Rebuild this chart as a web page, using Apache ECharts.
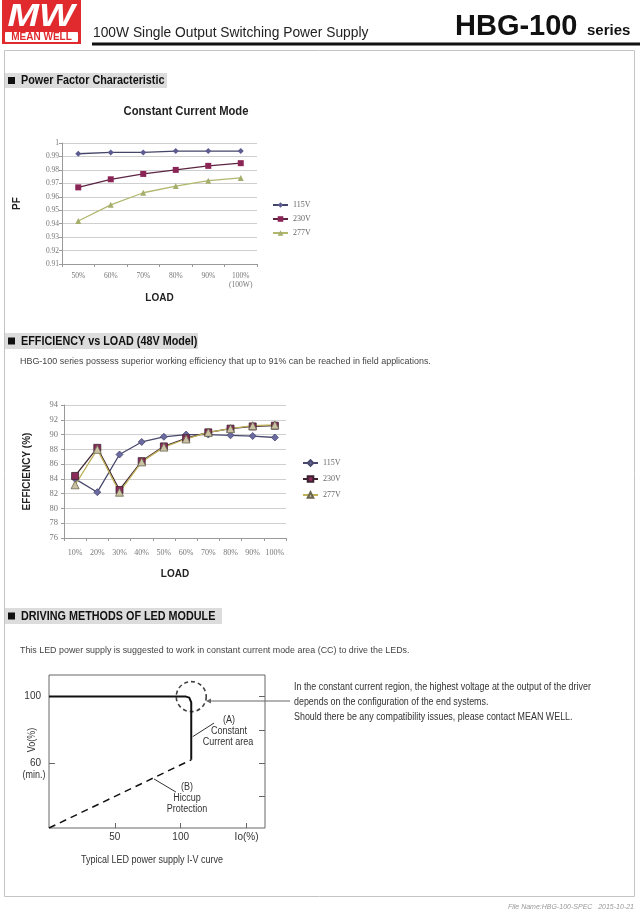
<!DOCTYPE html>
<html><head><meta charset="utf-8">
<script src="https://cdn.jsdelivr.net/npm/echarts@6/dist/echarts.min.js"></script>
<style>html,body{margin:0;padding:0;background:#fff}#c{width:640px;height:911px}</style>
</head><body><div id="c"></div>
<script>
// ---------- data ----------
const pfLoads = ['50%', '60%', '70%', '80%', '90%', '100%\n(100W)'];
const pf115 = [0.992, 0.993, 0.993, 0.994, 0.994, 0.994];
const pf230 = [0.967, 0.973, 0.977, 0.980, 0.983, 0.985];
const pf277 = [0.942, 0.954, 0.963, 0.968, 0.972, 0.974];

const effLoads = ['10%', '20%', '30%', '40%', '50%', '60%', '70%', '80%', '90%', '100%'];
const eff115 = [84.0, 82.2, 87.3, 89.0, 89.7, 90.0, 90.0, 89.9, 89.8, 89.6];
const eff230 = [84.4, 88.2, 82.5, 86.4, 88.4, 89.5, 90.3, 90.8, 91.1, 91.2];
const eff277 = [83.2, 88.0, 82.2, 86.3, 88.3, 89.4, 90.3, 90.8, 91.2, 91.3];

const seriesNames = ['115V', '230V', '277V'];

// I-V curve (Io %, Vo %)
const ivConstantCurrent = [[0, 100], [104, 100], [106.5, 99.4], [107.7, 98.2], [108, 96.5], [108, 62]];
const ivHiccup = [[0, 21], [108, 62]];
const ivCornerMark = [[108, 100]];
const ivLeaderA = [[109.1, 75.9], [125.3, 84.1]];
const ivLeaderB = [[79.7, 50.5], [96.4, 42.6]];
const ivXTicks = [50, 100, 150];
const ivXTickLabels = ['50', '100', 'Io(%)'];
const ivYLabelTicks = [100, 60];
const ivYRightTicks = [40, 60, 80, 100];

// ---------- styling helpers ----------
const NARROW = '"Liberation Sans Narrow","Arial Narrow","Liberation Sans",Arial,sans-serif';
const SANS = '"Liberation Sans",Arial,sans-serif';
const SERIF = '"Liberation Serif","DejaVu Serif",serif';

function txt(x, y, text, o) {
  o = o || {};
  return {
    type: 'text', x: x, y: y, rotation: o.rotation || 0, scaleX: o.scaleX || 1,
    style: {
      text: text, x: 0, y: 0,
      fontSize: o.size || 9, fontFamily: o.family || SANS,
      fontWeight: o.weight || 'normal', fontStyle: o.style || 'normal',
      fill: o.color || '#333', align: o.align || 'left', verticalAlign: o.va || 'middle'
    }
  };
}
function sectionHeader(x, y, w, h, label) {
  return [
    { type: 'rect', shape: { x: x, y: y, width: w, height: h }, style: { fill: '#dcdcdc' } },
    { type: 'rect', shape: { x: x + 3, y: y + h / 2 - 3.5, width: 7, height: 7 }, style: { fill: '#111' } },
    txt(x + 16, y + h / 2 + 0.5, label, { size: 12, weight: 'bold', color: '#111', scaleX: 0.9 })
  ];
}

const pfColors = [
  { line: '#45456a', mark: '#5c5c90', sym: 'diamond', size: 6 },
  { line: '#5a2442', mark: '#8a2556', sym: 'rect', size: 6 },
  { line: '#b1b86e', mark: '#a6ae6c', sym: 'triangle', size: 6 }
];
const effColors = [
  { line: '#48486c', mark: '#6b6ba2', sym: 'diamond', size: 7, border: '#48486c' },
  { line: '#3b2230', mark: '#8c2a5a', sym: 'rect', size: 7, border: '#3b2230' },
  { line: '#c0b25a', mark: '#c9c2a2', sym: 'triangle', size: 8, border: '#6a6650' }
];

const annot = { size: 10, color: '#333', align: 'center', scaleX: 0.9 };

const graphics = [].concat(
  // page frame
  [{ type: 'rect', shape: { x: 4.5, y: 50.5, width: 630, height: 846 }, style: { fill: 'none', stroke: '#c4c4c4', lineWidth: 1 } }],
  // logo
  [
    { type: 'rect', shape: { x: 2, y: 0, width: 79, height: 44 }, style: { fill: '#e02a2e' } },
    txt(41, 17, 'MW', { size: 31, weight: 'bold', style: 'italic', color: '#fff', align: 'center', scaleX: 1.22 }),
    { type: 'rect', shape: { x: 5, y: 32, width: 73, height: 10, r: 1 }, style: { fill: '#fff' } },
    txt(41.5, 37.5, 'MEAN WELL', { size: 10, weight: 'bold', color: '#e02a2e', align: 'center' })
  ],
  // page header
  [
    txt(93, 33, '100W Single Output Switching Power Supply', { size: 15, color: '#222', scaleX: 0.92 }),
    txt(455, 27, 'HBG-100', { size: 29, weight: 'bold', color: '#111' }),
    txt(587, 31, 'series', { size: 15, weight: 'bold', color: '#111' }),
    { type: 'rect', shape: { x: 92, y: 42.5, width: 548, height: 3 }, style: { fill: '#111' } }
  ],
  // section 1
  sectionHeader(5, 73, 162, 15, 'Power Factor Characteristic'),
  [txt(186, 112, 'Constant Current Mode', { size: 12.5, weight: 'bold', color: '#222', align: 'center', scaleX: 0.9 })],
  // section 2
  sectionHeader(5, 333, 193, 16, 'EFFICIENCY vs LOAD (48V Model)'),
  [txt(20, 361, 'HBG-100 series possess superior working efficiency that up to 91% can be reached in field applications.', { size: 9.5, color: '#444', scaleX: 0.94 })],
  // section 3
  sectionHeader(5, 608, 217, 16, 'DRIVING METHODS OF LED MODULE'),
  [txt(20, 650, 'This LED power supply is suggested to work in constant current mode area (CC) to drive the LEDs.', { size: 9.5, color: '#444', scaleX: 0.935 })],
  // I-V annotations
  [
    txt(32, 740, 'Vo(%)', { size: 10, color: '#333', align: 'center', rotation: Math.PI / 2, scaleX: 0.9 }),
    txt(34, 775, '(min.)', annot),
    txt(229, 720, '(A)', annot),
    txt(229, 731, 'Constant', annot),
    txt(228, 742, 'Current area', annot),
    txt(187, 787, '(B)', annot),
    txt(187, 798, 'Hiccup', annot),
    txt(187, 809, 'Protection', annot),
    txt(152, 860, 'Typical LED power supply I-V curve', annot),
    { type: 'line', shape: { x1: 208, y1: 701, x2: 290, y2: 701 }, style: { stroke: '#666', lineWidth: 1 } },
    { type: 'polygon', shape: { points: [[206, 701], [211, 698.5], [211, 703.5]] }, style: { fill: '#666' } },
    txt(294, 687, 'In the constant current region, the highest voltage at the output of the driver', { size: 10, color: '#333', scaleX: 0.89 }),
    txt(294, 702, 'depends on the configuration of the end systems.', { size: 10, color: '#333', scaleX: 0.89 }),
    txt(294, 717, 'Should there be any compatibility issues, please contact MEAN WELL.', { size: 10, color: '#333', scaleX: 0.89 })
  ],
  // footer
  [txt(634, 907, 'File Name:HBG-100-SPEC   2015-10-21', { size: 7, style: 'italic', color: '#999', align: 'right' })]
);

function lineSeries(name, data, c, xi, yi) {
  return {
    name: name, type: 'line', xAxisIndex: xi, yAxisIndex: yi, data: data,
    symbol: c.sym, symbolSize: c.size, showSymbol: true,
    lineStyle: { color: c.line, width: 1.3 },
    itemStyle: { color: c.mark, borderColor: c.border || c.mark, borderWidth: c.border ? 0.8 : 0 },
    emphasis: { disabled: true }, animation: false
  };
}

const catAxisBase = {
  type: 'category', boundaryGap: true,
  axisLine: { lineStyle: { color: '#9a9a9a' } },
  axisTick: { show: true, length: 3, lineStyle: { color: '#9a9a9a' } },
  axisLabel: { fontFamily: SERIF, color: '#777', fontSize: 8, lineHeight: 9, interval: 0 },
  nameLocation: 'middle', nameTextStyle: { fontFamily: SANS, fontWeight: 'bold', fontSize: 10, color: '#222' }
};
const valAxisBase = {
  type: 'value',
  axisLine: { show: true, lineStyle: { color: '#9a9a9a' } },
  axisTick: { show: true, length: 3, lineStyle: { color: '#9a9a9a' } },
  splitLine: { lineStyle: { color: '#cfcfcf' } },
  axisLabel: { fontFamily: SERIF, color: '#777', fontSize: 8 },
  nameLocation: 'middle', nameRotate: 90,
  nameTextStyle: { fontFamily: SANS, fontWeight: 'bold', fontSize: 10, color: '#222' }
};

const option = {
  animation: false,
  backgroundColor: '#fff',
  graphic: graphics,
  grid: [
    { left: 62, top: 143, width: 195, height: 121 },
    { left: 64, top: 405, width: 222, height: 133 },
    { left: 49, top: 675, width: 216, height: 153, show: true, borderColor: '#666', borderWidth: 1 }
  ],
  legend: [
    {
      data: seriesNames, orient: 'vertical', left: 267, top: 196, itemWidth: 15, itemHeight: 7, itemGap: 6,
      textStyle: { fontFamily: SERIF, fontSize: 8, color: '#666' }, selectedMode: false
    },
    {
      data: seriesNames.map(n => n + ' '), orient: 'vertical', left: 297, top: 454, itemWidth: 15, itemHeight: 7, itemGap: 8,
      formatter: n => n.trim(),
      textStyle: { fontFamily: SERIF, fontSize: 8, color: '#666' }, selectedMode: false
    }
  ],
  xAxis: [
    Object.assign({}, catAxisBase, { gridIndex: 0, data: pfLoads, name: 'LOAD', nameGap: 29,
      axisLabel: Object.assign({}, catAxisBase.axisLabel, { margin: 8, fontSize: 7.5 }) }),
    Object.assign({}, catAxisBase, { gridIndex: 1, data: effLoads, name: 'LOAD', nameGap: 31,
      axisLabel: Object.assign({}, catAxisBase.axisLabel, { margin: 10, fontSize: 8 }) }),
    {
      type: 'value', gridIndex: 2, min: 0, max: 164,
      axisLine: { show: false }, splitLine: { show: false },
      axisTick: { show: true, inside: true, length: 5, customValues: ivXTicks, lineStyle: { color: '#666' } },
      axisLabel: { customValues: ivXTicks, formatter: v => ivXTickLabels[ivXTicks.indexOf(v)] || '',
        fontFamily: SANS, fontSize: 10, color: '#333', margin: 4 }
    }
  ],
  yAxis: [
    Object.assign({}, valAxisBase, { gridIndex: 0, min: 0.91, max: 1, interval: 0.01, name: 'PF', nameGap: 40,
      axisLabel: Object.assign({}, valAxisBase.axisLabel, { fontSize: 7.5, margin: 3, formatter: v => String(Math.round(v * 100) / 100) }) }),
    Object.assign({}, valAxisBase, { gridIndex: 1, min: 76, max: 94, interval: 2, name: 'EFFICIENCY (%)', nameGap: 32,
      axisLabel: Object.assign({}, valAxisBase.axisLabel, { fontSize: 8.5, margin: 6 }) }),
    {
      type: 'value', gridIndex: 2, min: 21, max: 113,
      axisLine: { show: false }, splitLine: { show: false },
      axisTick: { show: true, inside: true, length: 6, customValues: [60], lineStyle: { color: '#666' } },
      axisLabel: { customValues: ivYLabelTicks, fontFamily: SANS, fontSize: 10, color: '#333', margin: 8 }
    },
    {
      type: 'value', gridIndex: 2, min: 21, max: 113, position: 'right',
      axisLine: { show: false }, splitLine: { show: false },
      axisTick: { show: true, inside: true, length: 6, customValues: ivYRightTicks, lineStyle: { color: '#666' } },
      axisLabel: { show: false }
    }
  ],
  series: [
    lineSeries(seriesNames[0], pf115, pfColors[0], 0, 0),
    lineSeries(seriesNames[1], pf230, pfColors[1], 0, 0),
    lineSeries(seriesNames[2], pf277, pfColors[2], 0, 0),
    lineSeries(seriesNames[0] + ' ', eff115, effColors[0], 1, 1),
    lineSeries(seriesNames[1] + ' ', eff230, effColors[1], 1, 1),
    lineSeries(seriesNames[2] + ' ', eff277, effColors[2], 1, 1),
    { type: 'line', xAxisIndex: 2, yAxisIndex: 2, data: ivConstantCurrent, symbol: 'none', silent: true,
      lineStyle: { color: '#111', width: 2 } },
    { type: 'line', xAxisIndex: 2, yAxisIndex: 2, data: ivHiccup, symbol: 'none', silent: true,
      lineStyle: { color: '#111', width: 1.5, type: [7, 5] } },
    { type: 'scatter', xAxisIndex: 2, yAxisIndex: 2, data: ivCornerMark, symbol: 'circle', symbolSize: 30, silent: true,
      itemStyle: { color: 'rgba(0,0,0,0)', borderColor: '#111', borderWidth: 1.6, borderType: [4, 3] } },
    { type: 'line', xAxisIndex: 2, yAxisIndex: 2, data: ivLeaderA, symbol: 'none', silent: true,
      lineStyle: { color: '#333', width: 1 } },
    { type: 'line', xAxisIndex: 2, yAxisIndex: 2, data: ivLeaderB, symbol: 'none', silent: true,
      lineStyle: { color: '#333', width: 1 } }
  ]
};

const chart = echarts.init(document.getElementById('c'), null, { renderer: 'canvas' });
chart.setOption(option);
</script>
</body></html>
